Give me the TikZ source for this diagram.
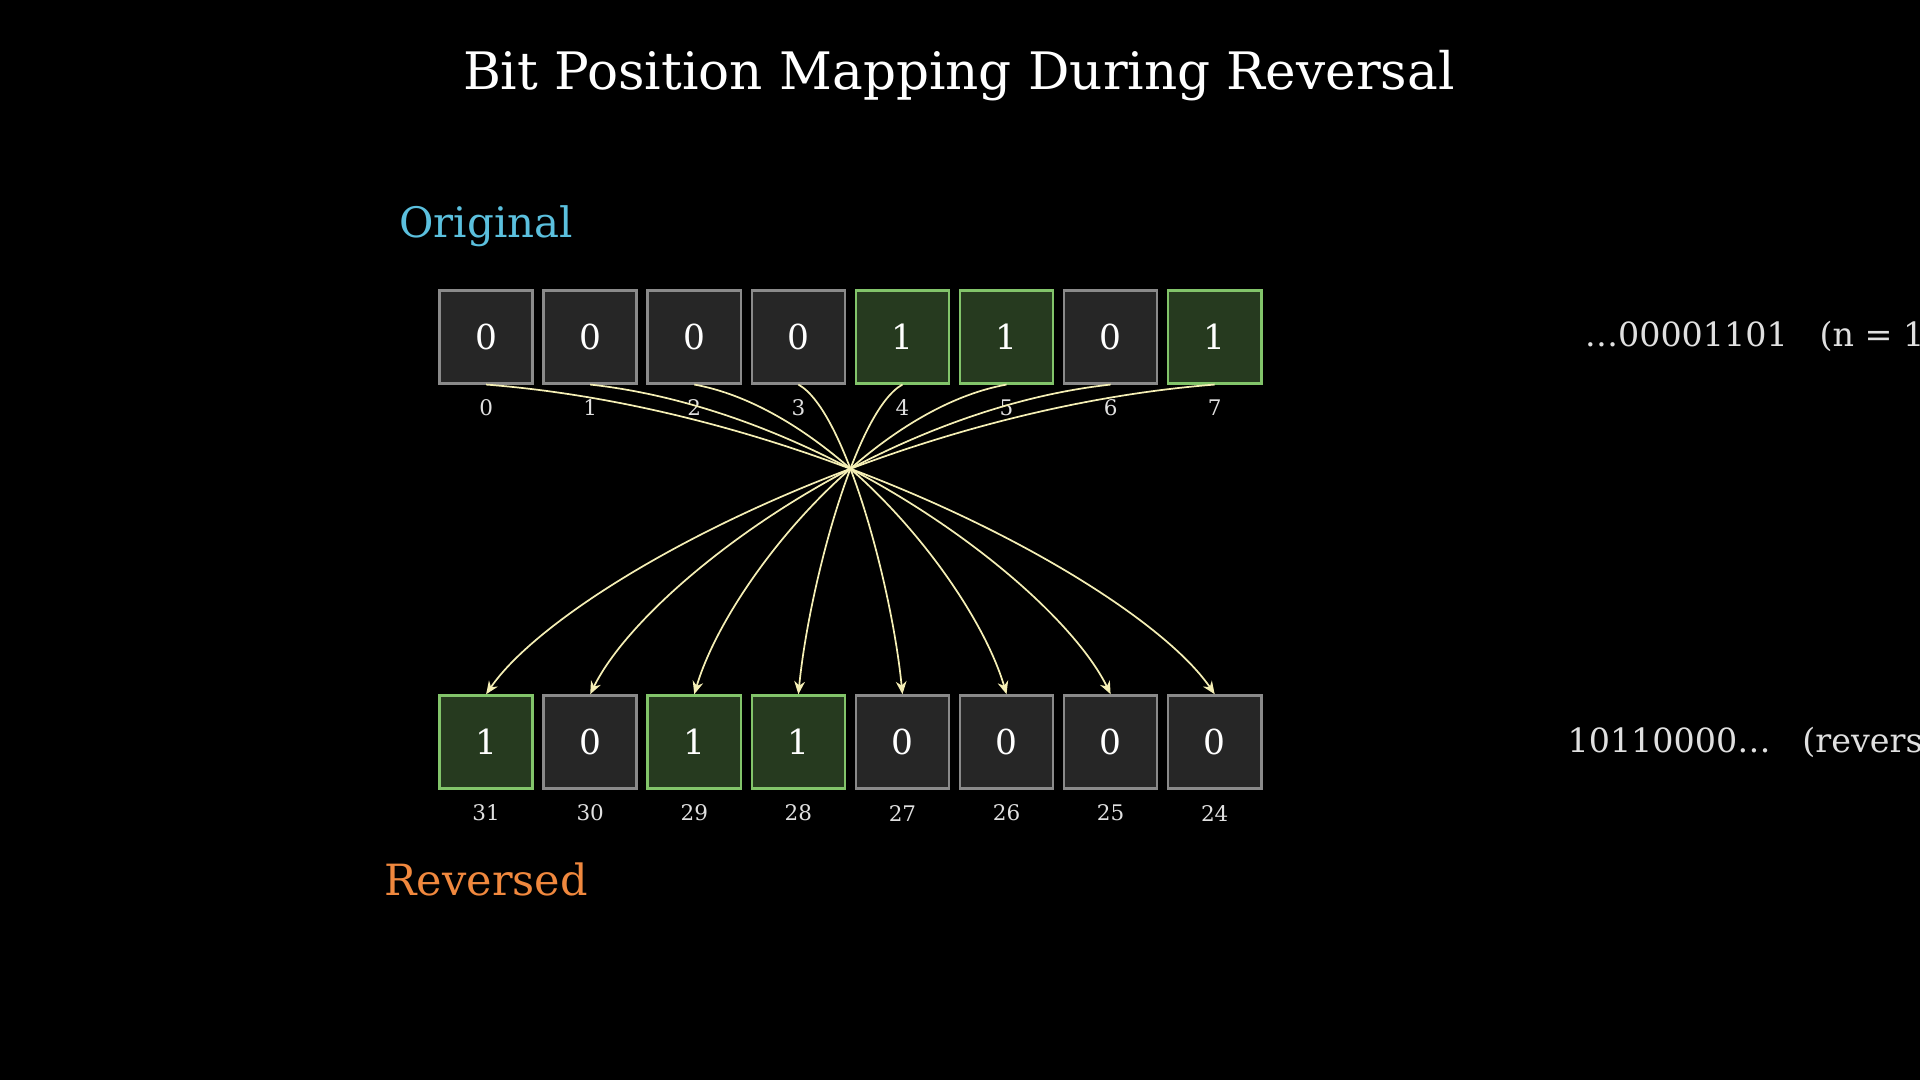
\documentclass[tikz,border=0pt]{standalone}
\usepackage{fontspec}
\setmainfont{DejaVu Serif}
\usetikzlibrary{calc,arrows.meta}
\definecolor{cellbg}{HTML}{262626}
\definecolor{cellbd}{HTML}{8A8A8A}
\definecolor{onebg}{HTML}{263A1F}
\definecolor{onebd}{HTML}{82C46A}
\definecolor{arr}{HTML}{F5EFB5}
\definecolor{cyanl}{HTML}{5BC0DE}
\definecolor{orangel}{HTML}{F0883E}
\tikzset{
 cell/.style={draw=cellbd,fill=cellbg,line width=1.2pt,minimum size=1.52cm,inner sep=0,text=white,font=\fontsize{16}{18}\selectfont},
 onecell/.style={cell,draw=onebd,fill=onebg},
 idx/.style={text=white!88!black,font=\fontsize{10}{12}\selectfont},
 conn/.style={draw=arr,line width=0.8pt,-{Stealth[length=6pt,width=5pt]}},
 side/.style={anchor=west,text=white!88!black,font=\fontsize{15.5}{18}\selectfont},
}
\begin{document}
\begin{tikzpicture}[x=0.02cm,y=-0.02cm]
\fill[black] (0,0) rectangle (1568,882);
\useasboundingbox (0,0) rectangle (1568,882);
\node[text=white,font=\fontsize{24}{28}\selectfont] (title) at (783,62) {Bit Position Mapping During Reversal};
\node[text=cyanl,font=\fontsize{19.5}{22}\selectfont] (orig) at (397,185) {Original};
\node[text=orangel,font=\fontsize{20}{22}\selectfont] (rev) at (397,718) {Reversed};
\foreach \b [count=\i from 0] in {0,0,0,0,1,1,0,1}{
  \pgfmathsetmacro{\xx}{397+85*\i}
  \ifnum\b=1 \node[onecell] (t\i) at (\xx,275) {\b};
  \else \node[cell] (t\i) at (\xx,275) {\b};\fi
  \node[idx] (ti\i) at (\xx,333) {\i};
}
\foreach \b/\l [count=\i from 0] in {1/31,0/30,1/29,1/28,0/27,0/26,0/25,0/24}{
  \pgfmathsetmacro{\xx}{397+85*\i}
  \ifnum\b=1 \node[onecell] (b\i) at (\xx,606) {\b};
  \else \node[cell] (b\i) at (\xx,606) {\b};\fi
  \node[idx] (bi\i) at (\xx,664) {\l};
}
\node[side] (s1) at (1288,275) {\ldots00001101\ \ \ (n = 13)};
\node[side] (s2) at (1274,606) {10110000\ldots\ \ \ (reversed)};
\foreach \i in {0,...,7}{
  \pgfmathtruncatemacro{\j}{7-\i}
  \pgfmathsetmacro{\xa}{397+85*\i}
  \pgfmathsetmacro{\xb}{397+85*\j}
  \pgfmathsetmacro{\cxa}{\xa+0.45*(\xb-\xa)}
  \pgfmathsetmacro{\cxb}{\xb-0.1*(\xb-\xa)}
  \coordinate (c1) at (\cxa,335);
  \coordinate (c2) at (\cxb,480);
  \draw[conn] (t\i.south) .. controls (c1) and (c2) .. (b\j.north);
}
\end{tikzpicture}
\end{document}
